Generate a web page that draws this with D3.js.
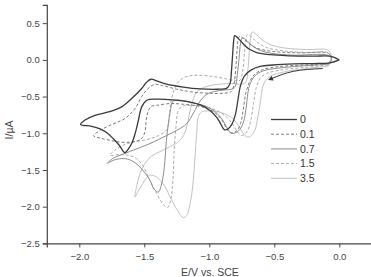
<!DOCTYPE html>
<html>
<head>
<meta charset="utf-8">
<script src="https://cdn.jsdelivr.net/npm/d3@7"></script>
<style>
  body { margin: 0; background: #fff; }
  svg { display: block; font-family: "Liberation Sans", Arial, sans-serif; }
</style>
</head>
<body>
<svg class="canvas" width="371" height="277"></svg>
<script>
// concentrations shown in the legend
var concentrations = ["0", "0.1", "0.7", "1.5", "3.5"];

// [E (V vs SCE), I (uA)], scan order
var cv0 = [
  [0.00, 0.00], [-0.07, -0.04], [-0.20, -0.05], [-0.35, -0.055], [-0.51, -0.07],
  [-0.61, -0.09], [-0.68, -0.14], [-0.73, -0.22], [-0.76, -0.35], [-0.78, -0.55],
  [-0.80, -0.75], [-0.83, -0.89], [-0.86, -0.945], [-0.885, -0.95], [-0.91, -0.88],
  [-0.94, -0.79], [-0.995, -0.69], [-1.06, -0.62], [-1.15, -0.575], [-1.28, -0.545],
  [-1.405, -0.535], [-1.48, -0.55], [-1.52, -0.64], [-1.545, -0.82], [-1.57, -1.0],
  [-1.597, -1.14], [-1.625, -1.22], [-1.65, -1.265], [-1.69, -1.17], [-1.738, -1.075],
  [-1.79, -0.99], [-1.84, -0.94], [-1.905, -0.905], [-1.99, -0.88],
  [-1.956, -0.82], [-1.88, -0.755], [-1.777, -0.71], [-1.674, -0.64], [-1.597, -0.527],
  [-1.52, -0.39], [-1.48, -0.30], [-1.449, -0.264], [-1.405, -0.285], [-1.33, -0.33],
  [-1.20, -0.37], [-1.07, -0.395], [-0.94, -0.40], [-0.865, -0.385], [-0.84, -0.32],
  [-0.83, -0.16], [-0.82, 0.085], [-0.812, 0.27], [-0.805, 0.33], [-0.785, 0.305],
  [-0.745, 0.23], [-0.70, 0.155], [-0.635, 0.10], [-0.53, 0.07], [-0.38, 0.055],
  [-0.20, 0.05], [-0.07, 0.05], [0.00, 0.00]
];

var cv01 = [
  [-0.085, -0.05], [-0.20, -0.064], [-0.355, -0.077], [-0.48, -0.095], [-0.585, -0.13],
  [-0.65, -0.195], [-0.69, -0.30], [-0.72, -0.46], [-0.74, -0.69], [-0.76, -0.87],
  [-0.79, -0.97], [-0.84, -0.99], [-0.865, -0.94], [-0.90, -0.83], [-0.95, -0.73],
  [-1.02, -0.66], [-1.10, -0.625], [-1.20, -0.605], [-1.30, -0.595], [-1.405, -0.62],
  [-1.45, -0.64], [-1.48, -0.76], [-1.495, -0.98], [-1.515, -1.06], [-1.55, -1.10],
  [-1.61, -1.12], [-1.69, -1.12], [-1.765, -1.095], [-1.84, -1.065], [-1.89, -1.035],
  [-1.84, -0.96], [-1.75, -0.88], [-1.65, -0.80], [-1.57, -0.66], [-1.52, -0.50],
  [-1.47, -0.39], [-1.42, -0.335], [-1.36, -0.35], [-1.25, -0.40], [-1.12, -0.44],
  [-0.99, -0.455], [-0.89, -0.455], [-0.83, -0.43], [-0.81, -0.33], [-0.795, -0.09],
  [-0.785, 0.16], [-0.775, 0.30], [-0.765, 0.32], [-0.74, 0.295], [-0.70, 0.23],
  [-0.65, 0.17], [-0.57, 0.13], [-0.45, 0.105], [-0.30, 0.095], [-0.085, 0.09],
  [-0.06, 0.02], [-0.085, -0.05]
];

var cv07 = [
  [-0.085, -0.06], [-0.30, -0.085], [-0.48, -0.115], [-0.585, -0.15], [-0.65, -0.22],
  [-0.69, -0.345], [-0.71, -0.55], [-0.725, -0.755], [-0.75, -0.905], [-0.785, -0.98],
  [-0.83, -1.0], [-0.86, -0.935], [-0.905, -0.80], [-0.97, -0.685], [-1.046, -0.62],
  [-1.15, -0.575], [-1.225, -0.55], [-1.277, -0.56], [-1.30, -0.70], [-1.315, -0.87],
  [-1.33, -1.10], [-1.346, -1.46], [-1.367, -1.69], [-1.392, -1.80], [-1.426, -1.76],
  [-1.456, -1.64], [-1.533, -1.46], [-1.60, -1.37], [-1.66, -1.345], [-1.726, -1.36],
  [-1.764, -1.39], [-1.785, -1.41],
  [-1.74, -1.34], [-1.687, -1.30], [-1.585, -1.23], [-1.456, -1.14], [-1.328, -1.03],
  [-1.25, -0.96], [-1.174, -0.87], [-1.12, -0.72], [-1.07, -0.56], [-1.02, -0.47],
  [-0.96, -0.43], [-0.88, -0.41], [-0.83, -0.40], [-0.80, -0.36], [-0.785, -0.21],
  [-0.77, 0.04], [-0.76, 0.22], [-0.745, 0.30], [-0.72, 0.277], [-0.675, 0.20],
  [-0.61, 0.13], [-0.51, 0.086], [-0.355, 0.064], [-0.085, 0.06], [-0.06, 0.0],
  [-0.085, -0.06]
];

var cv15 = [
  [-0.085, -0.07], [-0.30, -0.11], [-0.456, -0.14], [-0.56, -0.186], [-0.61, -0.255],
  [-0.64, -0.39], [-0.66, -0.595], [-0.68, -0.82], [-0.707, -0.97], [-0.744, -1.03],
  [-0.777, -0.995], [-0.815, -0.89], [-0.867, -0.78], [-0.944, -0.69], [-1.046, -0.63],
  [-1.136, -0.62], [-1.20, -0.63], [-1.238, -0.69], [-1.256, -0.91], [-1.27, -1.23],
  [-1.28, -1.64], [-1.297, -1.91], [-1.32, -2.01], [-1.354, -1.97], [-1.405, -1.82],
  [-1.47, -1.595], [-1.51, -1.44], [-1.56, -1.345], [-1.61, -1.305], [-1.687, -1.29],
  [-1.764, -1.30],
  [-1.726, -1.23], [-1.66, -1.16], [-1.585, -1.12], [-1.48, -1.085], [-1.39, -1.03],
  [-1.328, -0.95], [-1.305, -0.72], [-1.29, -0.527], [-1.25, -0.33], [-1.20, -0.245],
  [-1.14, -0.215], [-1.085, -0.21], [-1.00, -0.22], [-0.956, -0.23], [-0.87, -0.26],
  [-0.80, -0.285], [-0.764, -0.277], [-0.744, -0.164], [-0.73, 0.086], [-0.72, 0.277],
  [-0.708, 0.345], [-0.682, 0.323], [-0.636, 0.245], [-0.56, 0.168], [-0.43, 0.123],
  [-0.25, 0.10], [-0.085, 0.095], [-0.06, 0.01], [-0.085, -0.07]
];

var cv35 = [
  [-0.085, -0.086], [-0.30, -0.13], [-0.456, -0.177], [-0.546, -0.24], [-0.585, -0.345],
  [-0.605, -0.55], [-0.626, -0.777], [-0.65, -0.96], [-0.682, -1.04], [-0.708, -1.05],
  [-0.74, -1.0], [-0.777, -0.89], [-0.83, -0.786], [-0.905, -0.72], [-0.995, -0.695],
  [-1.06, -0.71], [-1.085, -0.78], [-1.097, -1.0], [-1.11, -1.32], [-1.128, -1.73],
  [-1.15, -1.98], [-1.174, -2.12], [-1.20, -2.15], [-1.238, -2.07], [-1.29, -1.91],
  [-1.34, -1.73], [-1.39, -1.62], [-1.444, -1.57], [-1.48, -1.60], [-1.52, -1.71],
  [-1.554, -1.81], [-1.572, -1.87],
  [-1.56, -1.73], [-1.533, -1.55], [-1.495, -1.41], [-1.444, -1.31], [-1.38, -1.25],
  [-1.30, -1.18], [-1.24, -1.12], [-1.19, -1.0], [-1.16, -0.80], [-1.136, -0.60],
  [-1.10, -0.45], [-1.06, -0.39], [-0.98, -0.345], [-0.83, -0.323], [-0.75, -0.33],
  [-0.718, -0.30], [-0.703, -0.14], [-0.692, 0.13], [-0.682, 0.31], [-0.67, 0.38],
  [-0.64, 0.35], [-0.597, 0.277], [-0.533, 0.21], [-0.43, 0.164], [-0.25, 0.14],
  [-0.085, 0.13], [-0.06, 0.02], [-0.085, -0.086]
];

var xTicks = [-2.0, -1.5, -1.0, -0.5, 0.0];
var yTicks = [0.5, 0.0, -0.5, -1.0, -1.5, -2.0, -2.5];

var series = [
  { name: concentrations[0], data: cv0,  color: "#3a3a3a", width: 1.3, dash: null },
  { name: concentrations[1], data: cv01, color: "#7a7a7a", width: 1,   dash: "3,2" },
  { name: concentrations[2], data: cv07, color: "#8c8c8c", width: 1,   dash: null },
  { name: concentrations[3], data: cv15, color: "#ababab", width: 1,   dash: "3,2" },
  { name: concentrations[4], data: cv35, color: "#c2c2c2", width: 1,   dash: null }
];

var svg = d3.select(".canvas");

var x = d3.scaleLinear().domain([-2.25, 0.25]).range([46.8, 371.8]);
var y = d3.scaleLinear().domain([-2.5, 0.75]).range([243.4, 4.8]);

var line = d3.line()
  .x(function(d) { return x(d[0]); })
  .y(function(d) { return y(d[1]); })
  .curve(d3.curveCatmullRom.alpha(0.5));

// draw light curves first so the dark one sits on top
svg.append("g")
  .selectAll("path")
  .data(series.slice().reverse())
  .enter()
  .append("path")
    .attr("d", function(d) { return line(d.data); })
    .attr("fill", "none")
    .attr("stroke", function(d) { return d.color; })
    .attr("stroke-width", function(d) { return d.width; })
    .attr("stroke-dasharray", function(d) { return d.dash; })
    .attr("stroke-linejoin", "round");

// axes
var axisColor = "#444";

var xAxis = svg.append("g").attr("transform", "translate(0," + y(-2.5) + ")");
xAxis.call(d3.axisBottom(x).tickValues(d3.range(-2.25, 0.26, 0.25)).tickSize(2.5).tickFormat(""));
xAxis.call(d3.axisBottom(x).tickValues(xTicks).tickSize(4).tickFormat(d3.format(".1f")));
xAxis.selectAll(".domain").attr("stroke", axisColor).attr("stroke-width", 1.2);
xAxis.selectAll("line").attr("stroke", axisColor);
xAxis.selectAll("text").attr("fill", "#444").style("font-size", "9.5px").attr("dy", "1.05em");

var yAxis = svg.append("g").attr("transform", "translate(" + x(-2.25) + ",0)");
yAxis.call(d3.axisLeft(y).tickValues(d3.range(-2.5, 0.76, 0.25)).tickSize(2.5).tickFormat(""));
yAxis.call(d3.axisLeft(y).tickValues(yTicks).tickSize(4).tickFormat(d3.format(".1f")));
yAxis.selectAll(".domain").attr("stroke", axisColor).attr("stroke-width", 1.2);
yAxis.selectAll("line").attr("stroke", axisColor);
yAxis.selectAll("text").attr("fill", "#444").style("font-size", "9.5px").attr("x", -7);

svg.append("text")
  .attr("x", 210).attr("y", 276)
  .attr("text-anchor", "middle")
  .attr("fill", "#444")
  .style("font-size", "10.5px")
  .text("E/V vs. SCE");

svg.append("text")
  .attr("transform", "translate(13," + 130 + ") rotate(-90)")
  .attr("text-anchor", "middle")
  .attr("fill", "#444")
  .style("font-size", "10.5px")
  .text("I/\u00b5A");

// scan direction arrow
var arrowPts = [[-0.128, -0.118], [-0.35, -0.155], [-0.52, -0.255]];
var arrowLine = d3.line()
  .x(function(d) { return x(d[0]); })
  .y(function(d) { return y(d[1]); })
  .curve(d3.curveNatural);

svg.append("defs").append("marker")
  .attr("id", "head")
  .attr("viewBox", "0 0 10 10")
  .attr("refX", 2).attr("refY", 5)
  .attr("markerWidth", 6).attr("markerHeight", 5)
  .attr("orient", "auto")
  .append("path")
    .attr("d", "M0,0 L10,5 L0,10 z")
    .attr("fill", "#333");

svg.append("path")
  .attr("d", arrowLine(arrowPts))
  .attr("fill", "none")
  .attr("stroke", "#333")
  .attr("stroke-width", 1)
  .attr("marker-end", "url(#head)");

// legend
var legend = svg.append("g")
  .selectAll("g")
  .data(series)
  .enter()
  .append("g")
    .attr("transform", function(d, i) { return "translate(271," + (119.5 + i * 14.7) + ")"; });

legend.append("line")
  .attr("x1", 0).attr("x2", 26)
  .attr("stroke", function(d) { return d.color; })
  .attr("stroke-width", function(d) { return d.width; })
  .attr("stroke-dasharray", function(d) { return d.dash; });

legend.append("text")
  .attr("x", 29).attr("dy", "0.36em")
  .attr("fill", "#333")
  .style("font-size", "10.5px")
  .text(function(d) { return d.name; });
</script>
</body>
</html>
